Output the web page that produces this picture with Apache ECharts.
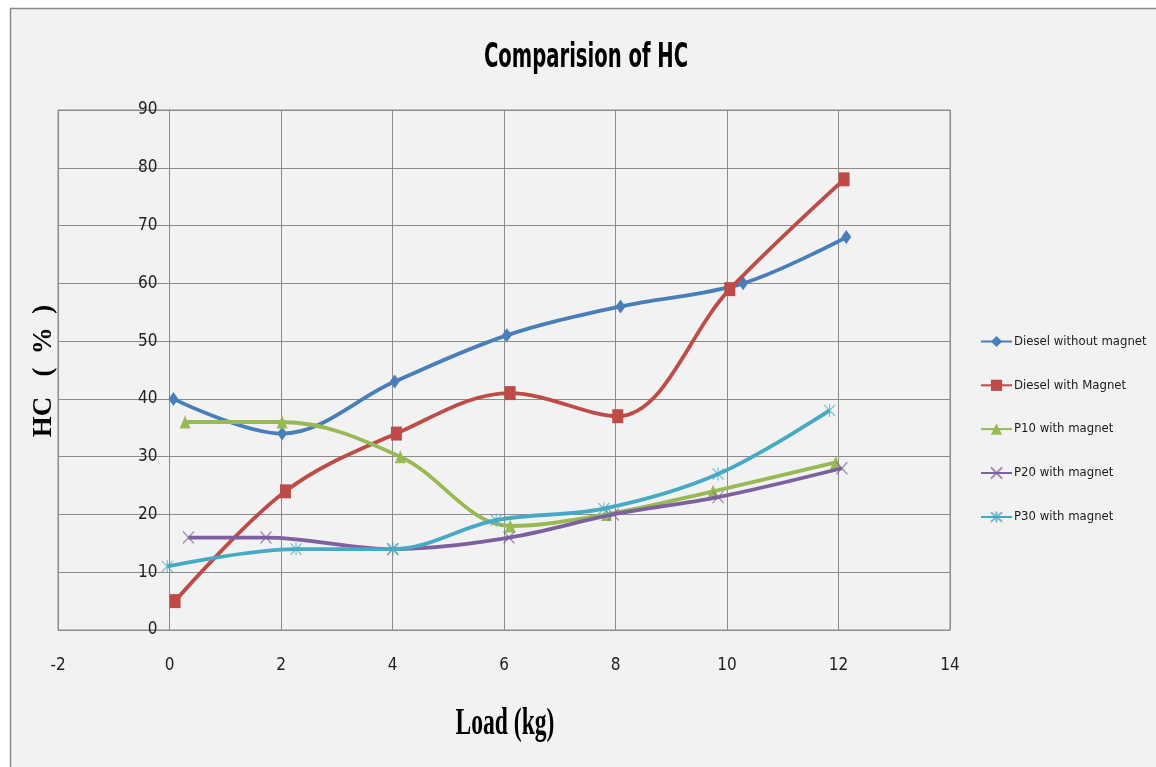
<!DOCTYPE html>
<html>
<head>
<meta charset="utf-8">
<script src="https://cdn.jsdelivr.net/npm/echarts@6/dist/echarts.min.js"></script>
<style>
  html, body { margin: 0; padding: 0; background: #ffffff; }
  #chart { width: 1156px; height: 767px; }
</style>
</head>
<body>
<div id="chart"></div>
<script>
// Load (kg) positions and HC (%) readings for each test fuel
const seriesNames = [
  'Diesel without magnet',
  'Diesel with Magnet',
  'P10 with magnet',
  'P20 with magnet',
  'P30 with magnet'
];

const dieselNoMagnetLoad = [0.07, 2.02, 4.04, 6.05, 8.09, 10.29, 12.14];
const dieselNoMagnetHC   = [40, 34, 43, 51, 56, 60, 68];

const dieselMagnetLoad = [0.10, 2.08, 4.07, 6.11, 8.04, 10.05, 12.10];
const dieselMagnetHC   = [5, 24, 34, 41, 37, 59, 78];

const p10Load = [0.28, 2.02, 4.14, 6.11, 7.84, 9.75, 11.95];
const p10HC   = [36, 36, 30, 18, 20, 24, 29];

const p20Load = [0.34, 1.73, 4.00, 6.09, 7.96, 9.84, 12.06];
const p20HC   = [16, 16, 14, 16, 20, 23, 28];

const p30Load = [-0.04, 2.27, 4.01, 5.86, 7.79, 9.84, 11.84];
const p30HC   = [11, 14, 14, 19, 21, 27, 38];

const xTicks = { min: -2, max: 14, step: 2 };
const yTicks = { min: 0, max: 90, step: 10 };

const colors = ['#4a7ebb', '#be4b48', '#98b954', '#7d60a0', '#46aac5'];
const gridColor = '#8c8c8c';
const narrow = "'Liberation Sans Narrow', 'DejaVu Sans Condensed', 'Arial Narrow', sans-serif";

// plot box in pixels
const plotLeft = 58, plotRight = 206, plotTop = 110, plotBottom = 137;
const plotWidth = 1156 - plotLeft - plotRight;

function pairs(xs, ys) {
  return xs.map((x, i) => [x, ys[i]]);
}

// thin X and asterisk marks, stroked rather than filled
const crossPath = 'path://M0,0L12,12M12,0L0,12';
const asteriskPath = 'path://M0,0L12,12M12,0L0,12M6,-1L6,13';

const markers = [
  { symbol: 'diamond', size: [10, 14], stroke: false },
  { symbol: 'rect', size: [11, 14], stroke: false },
  { symbol: 'triangle', size: [11, 13], stroke: false },
  { symbol: crossPath, size: [11, 12], stroke: true },
  { symbol: asteriskPath, size: [11, 13], stroke: true }
];

const dataSets = [
  pairs(dieselNoMagnetLoad, dieselNoMagnetHC),
  pairs(dieselMagnetLoad, dieselMagnetHC),
  pairs(p10Load, p10HC),
  pairs(p20Load, p20HC),
  pairs(p30Load, p30HC)
];

const series = dataSets.map((data, i) => {
  const m = markers[i];
  return {
    name: seriesNames[i],
    type: 'line',
    data: data,
    smooth: 0.35,
    symbol: m.symbol,
    symbolSize: m.size,
    showSymbol: true,
    lineStyle: { color: colors[i], width: 3.8 },
    itemStyle: m.stroke
      ? { color: 'rgba(0,0,0,0)', borderColor: colors[i], borderWidth: 1.2, opacity: 0.75 }
      : { color: colors[i], borderWidth: 0 },
    emphasis: { disabled: true },
    z: 3 + i
  };
});

// the vertical axis crosses the horizontal one at load = 0
const yAxisShift = plotWidth * (0 - xTicks.min) / (xTicks.max - xTicks.min);

const chart = echarts.init(document.getElementById('chart'), null, { renderer: 'canvas' });

chart.setOption({
  backgroundColor: '#f2f2f2',
  animation: false,
  grid: {
    left: plotLeft, right: plotRight, top: plotTop, bottom: plotBottom,
    show: true, borderColor: gridColor, borderWidth: 1,
    backgroundColor: 'rgba(0,0,0,0)'
  },
  legend: {
    orient: 'vertical',
    left: 980,
    top: 335,
    padding: 0,
    itemWidth: 31,
    itemHeight: 14,
    itemGap: 30.8,
    textStyle: { fontFamily: narrow, fontSize: 13, color: '#1a1a1a', padding: [0, 0, 0, -3] },
    data: seriesNames
  },
  xAxis: {
    type: 'value',
    min: xTicks.min, max: xTicks.max, interval: xTicks.step,
    axisLine: { show: true, onZero: false, lineStyle: { color: gridColor, width: 1 } },
    axisTick: { show: false },
    splitLine: { show: true, lineStyle: { color: gridColor, width: 1 } },
    axisLabel: { margin: 27, fontFamily: narrow, fontSize: 17, color: '#222' }
  },
  yAxis: {
    type: 'value',
    min: yTicks.min, max: yTicks.max, interval: yTicks.step,
    position: 'left',
    offset: -yAxisShift,
    axisLine: { show: true, onZero: false, lineStyle: { color: gridColor, width: 1 } },
    axisTick: { show: false },
    splitLine: { show: true, lineStyle: { color: gridColor, width: 1 } },
    axisLabel: { margin: 12, fontFamily: narrow, fontSize: 17, color: '#222' }
  },
  graphic: [
    { type: 'rect', shape: { x: 0, y: 0, width: 1156, height: 8 }, style: { fill: '#ffffff' }, silent: true },
    { type: 'rect', shape: { x: 0, y: 0, width: 10, height: 767 }, style: { fill: '#ffffff' }, silent: true },
    { type: 'polyline', shape: { points: [[10.5, 767], [10.5, 8.5], [1156, 8.5]] },
      style: { stroke: '#8a8a8a', lineWidth: 1.5, fill: null }, silent: true },
    {
      type: 'text', x: 586, y: 58, scaleX: 0.66, silent: true,
      style: {
        text: 'Comparision of HC', fill: '#000',
        font: "bold 33px 'Liberation Sans Narrow', 'DejaVu Sans Condensed', sans-serif",
        textAlign: 'center', textVerticalAlign: 'middle'
      }
    },
    {
      type: 'text', x: 505, y: 724, scaleX: 0.62, silent: true,
      style: {
        text: 'Load (kg)', fill: '#000',
        font: "bold 38px 'Liberation Serif', 'DejaVu Serif', serif",
        textAlign: 'center', textVerticalAlign: 'middle'
      }
    },
    {
      type: 'text', x: 44, y: 371, rotation: Math.PI / 2, silent: true,
      style: {
        text: 'HC   (  %  )', fill: '#000',
        font: "bold 27px 'Liberation Serif', 'DejaVu Serif', serif",
        textAlign: 'center', textVerticalAlign: 'middle'
      }
    }
  ],
  series: series
});
</script>
</body>
</html>
